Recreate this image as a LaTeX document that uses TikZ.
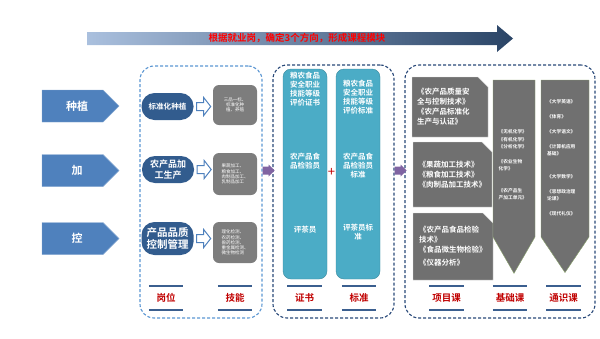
\documentclass[tikz,border=0pt]{standalone}
\usepackage{fontspec}
\setmainfont{Noto Sans CJK SC}[BoldFont={Noto Sans CJK SC Bold}]
\usetikzlibrary{shapes.symbols,shapes.misc,calc}
\definecolor{arrowblue}{RGB}{79,129,189}
\definecolor{postblue}{RGB}{50,92,142}
\definecolor{skillgray}{RGB}{125,125,125}
\definecolor{coursegray}{RGB}{112,112,112}
\definecolor{courseolive}{RGB}{140,165,110}
\definecolor{certteal}{RGB}{75,172,198}
\definecolor{lightdash}{RGB}{91,150,210}
\definecolor{darkdash}{RGB}{40,72,120}
\definecolor{labred}{RGB}{192,0,0}
\definecolor{labline}{RGB}{59,95,143}
\definecolor{flowpurple}{RGB}{128,100,162}
\definecolor{titlelight}{RGB}{170,192,222}
\definecolor{titledark}{RGB}{42,68,102}
\begin{document}
\begin{tikzpicture}[x=1pt, y=-1pt,
  sidearrow/.style={fill=arrowblue, draw=arrowblue!70!white},
  sidetext/.style={text=white, inner sep=0, font=\bfseries\fontsize{11}{13}\selectfont},
  post/.style={fill=postblue, text=white, rounded corners=13pt, minimum width=52, minimum height=27, inner sep=1, align=center, font=\bfseries\fontsize{9}{10.5}\selectfont},
  skill/.style={fill=skillgray, text=white, rounded corners=6pt, minimum width=44, align=left, inner sep=2, font=\fontsize{4.5}{5.2}\selectfont},
  dashbox/.style={draw, dashed, dash pattern=on 3pt off 2pt, line width=1.1pt, rounded corners=14pt},
  certcol/.style={fill=certteal, draw=certteal!80!black, rounded corners=8pt, minimum width=44, minimum height=210},
  certtext/.style={text=white, align=center, inner sep=0, font=\bfseries\fontsize{7.5}{9}\selectfont},
  proj/.style={chamfered rectangle, chamfered rectangle corners=north east, chamfered rectangle xsep=5pt, chamfered rectangle ysep=5pt, fill=coursegray, draw=white!75!gray, text=white, align=left, inner sep=0, font=\bfseries\fontsize{7.5}{10}\selectfont},
  course/.style={signal, signal to=south, fill=coursegray, draw=courseolive, minimum width=42, minimum height=157, inner sep=0},
  coursetext/.style={text=white, align=left, inner sep=0, font=\bfseries\fontsize{4.7}{7.5}\selectfont},
  collabel/.style={text=labred, minimum width=34, minimum height=23, inner sep=0, font=\bfseries\fontsize{9.5}{11}\selectfont},
  labline/.style={draw=labline, line width=2pt},
  hollow/.style={draw=arrowblue, fill=white, line width=1pt},
  flow/.style={fill=flowpurple}]
\useasboundingbox (0,0) rectangle (600,338);
% title arrow
\shade[left color=titlelight, right color=titledark] (87,32) -- (497,32) -- (497,25) -- (513,38.5) -- (497,52) -- (497,45) -- (87,45) -- cycle;
\node[text=red, inner sep=0, font=\bfseries\fontsize{9.5}{11}\selectfont] (ttl) at (297,38.5) {根据就业岗，确定3个方向，形成课程模块};
% three directions
\foreach \y in {106,170.5,238.5}
  \draw[sidearrow] (42,\y-16) -- (103,\y-16) -- (119,\y) -- (103,\y+16) -- (42,\y+16) -- cycle;
\node[sidetext] (zz) at (77,106) {种植};
\node[sidetext] (jg) at (77,170.5) {加};
\node[sidetext] (kz) at (77,238.5) {控};
% dashed groups
\node[dashbox, draw=lightdash, minimum width=122, minimum height=252] (gwbox) at (201,192) {};
\node[dashbox, draw=darkdash, minimum width=121, minimum height=253] (zsbox) at (333.5,191.5) {};
\node[dashbox, draw=darkdash, minimum width=190, minimum height=253] (kcbox) at (500,191.5) {};
% posts and skills
\node[post, font=\bfseries\fontsize{7.6}{9}\selectfont] (o1) at (167.5,106.5) {标准化种植};
\node[post] (o2) at (168,169.5) {农产品加\\工生产};
\node[post, minimum height=33, font=\bfseries\fontsize{10.5}{11.5}\selectfont] (o3) at (167.5,238.5) {产品品质\\控制管理};
\node[skill, align=center, minimum height=40] (s1) at (235,105) {三品一标、\\标准化种\\植、养殖};
\node[skill, minimum height=42] (s2) at (235,174) {果蔬加工、\\粮食加工、\\肉制品加工、\\乳制品加工};
\node[skill, minimum height=41] (s3) at (235,242.5) {理化检测、\\农药检测、\\兽药检测、\\重金属检测、\\微生物检测};
\foreach \a in {o1,o2,o3}
  \draw[hollow] ($(\a.east)+(3,-4)$) -- ++(7,0) -- ++(0,-5) -- ++(7,9) -- ++(-7,9) -- ++(0,-5) -- ++(-7,0) -- cycle;
% certificates and standards
\node[certcol] (c1) at (305,174) {};
\node[certcol] (c2) at (358,174) {};
\node[certtext] (c1a) at (305,88.7) {粮农食品\\安全职业\\技能等级\\评价证书};
\node[certtext] (c1b) at (305,161.3) {农产品食\\品检验员};
\node[certtext] (c1c) at (305,229.3) {评茶员};
\node[certtext] (c2a) at (358,97.5) {粮农食品\\安全职业\\技能等级\\评价标准};
\node[certtext] (c2b) at (358,166) {农产品食\\品检验员\\标准};
\node[certtext] (c2c) at (358,232) {评茶员标\\准};
\node[text=labred, inner sep=0, font=\fontsize{13}{13}\selectfont] (plus) at (331.5,172) {+};
% courses
\node[proj, text width=66, minimum width=74, minimum height=60] (p1) at (450,107) {《农产品质量安\\全与控制技术》\\《农产品标准化\\生产与认证》};
\node[proj, text width=68, minimum width=79, minimum height=65] (p2) at (452.5,174.5) {《果蔬加工技术》\\《粮食加工技术》\\《肉制品加工技术》};
\node[proj, text width=68, minimum width=80, minimum height=67] (p3) at (453,246.5) {《农产品食品检验\\技术》\\《食品微生物检验》\\[3pt]《仪器分析》};
\node[course, signal pointer angle=60] (jc) at (514,158.5) {};
\node[course, signal pointer angle=68, minimum width=48] (ts) at (565,158.5) {};
\node[coursetext, anchor=north west] (jct) at (498.5,129.4) {《无机化学》\\《有机化学》\\《分析化学》\\[7pt]《农业生物\\化学》\\[14pt]《农产品生\\产加工单元》};
\node[coursetext, anchor=north west] (tst) at (547,99.4) {《大学英语》\\[7pt]《体育》\\[8pt]《大学语文》\\[7pt]《计算机应用\\基础》\\[15pt]《大学数学》\\[7.5pt]《思想政治理\\论课》\\[7.5pt]《现代礼仪》};
% flow between groups
\foreach \a in {gwbox,zsbox}
  \fill[flow] ($(\a.east |- jg.center)+(0,-4)$) -- ++(6,0) -- ++(0,-2) -- ++(6,6) -- ++(-6,6) -- ++(0,-2) -- ++(-6,0) -- cycle;
% column labels
\node[collabel] (gw) at (166,298) {岗位};
\node[collabel] (jn) at (235,298) {技能};
\node[collabel] (zs) at (304.5,298) {证书};
\node[collabel] (bz) at (359,298) {标准};
\node[collabel] (xm) at (446.5,298) {项目课};
\node[collabel] (jck) at (510,298) {基础课};
\node[collabel] (tsk) at (563.5,298) {通识课};
\foreach \n in {gw,jn,zs,bz,xm,jck,tsk} {
  \draw[labline] (\n.north west) -- (\n.north east);
  \draw[labline] (\n.south west) -- (\n.south east);
}
\end{tikzpicture}
\end{document}
